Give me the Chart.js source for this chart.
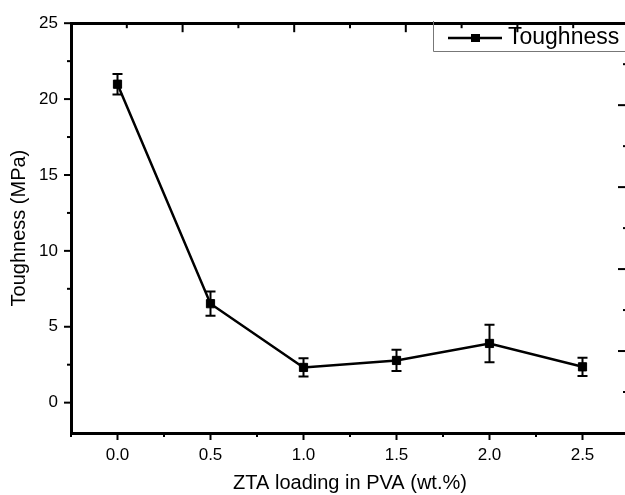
<!DOCTYPE html>
<html>
<head>
<meta charset="utf-8">
<script src="https://cdn.jsdelivr.net/npm/chart.js@4"></script>
<style>
  html, body { margin: 0; padding: 0; background: #fff; overflow: hidden; }
  #wrap { width: 640px; height: 495px; }
</style>
</head>
<body>
<div id="wrap"><canvas id="chart"></canvas></div>
<script>
// data
const loading = [0.0, 0.5, 1.0, 1.5, 2.0, 2.5];
const toughness = [20.98, 6.52, 2.32, 2.78, 3.9, 2.36];
const toughnessErr = [0.68, 0.8, 0.6, 0.7, 1.24, 0.6];

// tick positions
const xTicks = [0, 0.5, 1.0, 1.5, 2.0, 2.5];
const xMinor = [-0.25, 0.25, 0.75, 1.25, 1.75, 2.25, 2.75];
const yTicks = [0, 5, 10, 15, 20, 25];
const yMinor = [2.5, 7.5, 12.5, 17.5, 22.5];
// top / right frame axes (their labels are cut off in the original)
const sideTicks = [0, 1, 2, 3, 4, 5];
const sideMinor = [0.5, 1.5, 2.5, 3.5, 4.5];

Chart.defaults.font.family = "'Liberation Sans', Arial, sans-serif";
Chart.defaults.color = '#000';

//draws all the little tick marks, inward on top/right like origin does
const tickMarks = {
  id: 'tickMarks',
  afterDraw(chart) {
    const ctx = chart.ctx;
    const { left, right, top, bottom } = chart.chartArea;
    const s = chart.scales;
    ctx.save();
    ctx.strokeStyle = '#000';
    ctx.lineWidth = 2;
    function mark(x1, y1, x2, y2) {
      ctx.beginPath();
      ctx.moveTo(x1, y1);
      ctx.lineTo(x2, y2);
      ctx.stroke();
    }
    xTicks.forEach(v => { const x = s.x.getPixelForValue(v); mark(x, bottom, x, bottom + 7); });
    xMinor.forEach(v => { const x = s.x.getPixelForValue(v); mark(x, bottom, x, bottom + 4); });
    yTicks.forEach(v => { const y = s.y.getPixelForValue(v); mark(left, y, left - 7, y); });
    yMinor.forEach(v => { const y = s.y.getPixelForValue(v); mark(left, y, left - 4, y); });
    sideTicks.forEach(v => { const x = s.x2.getPixelForValue(v); mark(x, top, x, top + 9); });
    sideMinor.forEach(v => { const x = s.x2.getPixelForValue(v); mark(x, top, x, top + 5); });
    sideTicks.forEach(v => { const y = s.y2.getPixelForValue(v); mark(right, y, right - 11, y); });
    sideMinor.forEach(v => { const y = s.y2.getPixelForValue(v); mark(right, y, right - 6, y); });
    ctx.restore();
  }
};

const errorBars = {
  id: 'errorBars',
  afterDatasetsDraw(chart) {
    const ctx = chart.ctx;
    const s = chart.scales;
    ctx.save();
    ctx.strokeStyle = '#000';
    ctx.lineWidth = 2;
    loading.forEach((xv, i) => {
      const x = s.x.getPixelForValue(xv);
      const yTop = s.y.getPixelForValue(toughness[i] + toughnessErr[i]);
      const yBot = s.y.getPixelForValue(toughness[i] - toughnessErr[i]);
      ctx.beginPath();
      ctx.moveTo(x, yTop); ctx.lineTo(x, yBot);
      ctx.moveTo(x - 5, yTop); ctx.lineTo(x + 5, yTop);
      ctx.moveTo(x - 5, yBot); ctx.lineTo(x + 5, yBot);
      ctx.stroke();
    });
    ctx.restore();
  }
};

const boxLegend = {
  id: 'boxLegend',
  afterDraw(chart) {
    const ctx = chart.ctx;
    const label = chart.data.datasets[0].label;
    ctx.save();
    ctx.strokeStyle = '#777';
    ctx.lineWidth = 1;
    ctx.beginPath();
    ctx.moveTo(433.5, 21);
    ctx.lineTo(433.5, 51.5);
    ctx.lineTo(640, 51.5);
    ctx.stroke();
    ctx.strokeStyle = '#000';
    ctx.lineWidth = 2.5;
    ctx.beginPath();
    ctx.moveTo(448, 38);
    ctx.lineTo(502, 38);
    ctx.stroke();
    ctx.fillStyle = '#000';
    ctx.fillRect(471, 34, 9, 8);
    ctx.font = "23px 'Liberation Sans', Arial, sans-serif";
    ctx.textBaseline = 'middle';
    ctx.fillText(label, 508, 38);
    ctx.restore();
  }
};

const frame = { display: true, color: '#000', width: 3 };

new Chart(document.getElementById('chart').getContext('2d'), {
  type: 'line',
  data: {
    datasets: [{
      label: 'Toughness',
      data: loading.map((x, i) => ({ x: x, y: toughness[i] })),
      borderColor: '#000',
      backgroundColor: '#000',
      borderWidth: 2.5,
      pointStyle: 'rect',
      pointRadius: 5.8,
      pointBorderWidth: 1,
      tension: 0
    }]
  },
  options: {
    responsive: true,
    maintainAspectRatio: false,
    animation: false,
    layout: { padding: 0 },
    plugins: { legend: { display: false }, tooltip: { enabled: false } },
    scales: {
      x: {
        type: 'linear', position: 'bottom', min: -0.25, max: 2.75,
        afterBuildTicks: sc => { sc.ticks = xTicks.map(v => ({ value: v })); },
        afterFit: sc => { sc.height = 62; },
        grid: { display: false, drawTicks: false },
        border: frame,
        ticks: { font: { size: 17 }, padding: 12, maxRotation: 0, autoSkip: false,
                 callback: v => Number(v).toFixed(1) },
        title: { display: true, text: 'ZTA loading in PVA (wt.%)', font: { size: 20 },
                 padding: { top: 0, bottom: 0 } }
      },
      y: {
        type: 'linear', position: 'left', min: -2, max: 25,
        afterBuildTicks: sc => { sc.ticks = yTicks.map(v => ({ value: v })); },
        afterFit: sc => { sc.width = 71; },
        grid: { display: false, drawTicks: false },
        border: frame,
        ticks: { font: { size: 17 }, padding: 13, autoSkip: false },
        title: { display: true, text: 'Toughness (MPa)', font: { size: 20 },
                 padding: { top: 7, bottom: 0 } }
      },
      x2: {
        type: 'linear', position: 'top', min: 0, max: 5,
        afterFit: sc => { sc.height = 20; },
        grid: { display: false, drawTicks: false },
        border: frame,
        ticks: { display: false }
      },
      y2: {
        type: 'linear', position: 'right', min: 0, max: 5,
        afterFit: sc => { sc.width = 11; },
        grid: { display: false, drawTicks: false },
        border: frame,
        ticks: { display: false }
      }
    }
  },
  plugins: [tickMarks, errorBars, boxLegend]
});
</script>
</body>
</html>
